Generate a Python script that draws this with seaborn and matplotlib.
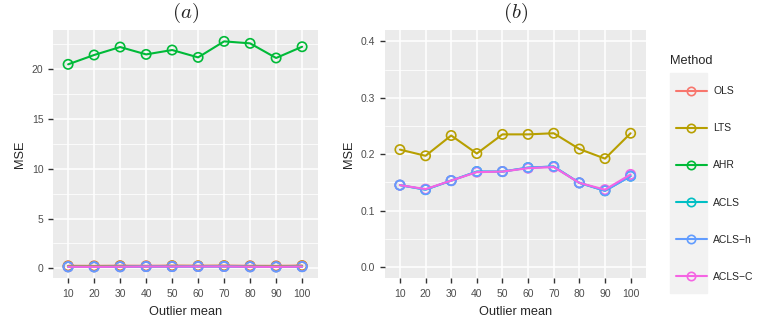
import pandas as pd
import seaborn as sns
import matplotlib.pyplot as plt
from matplotlib.lines import Line2D
from matplotlib.patches import Rectangle
from matplotlib.ticker import MultipleLocator

# categories and series
outlier_mean = ["10", "20", "30", "40", "50", "60", "70", "80", "90", "100"]
methods = ["OLS", "LTS", "AHR", "ACLS", "ACLS\u2212h", "ACLS\u2212C"]
palette = ["#F8766D", "#B79F00", "#00BA38", "#00BFC4", "#619CFF", "#F564E3"]

# panel (a)
ols_a = [0.25, 0.24, 0.26, 0.25, 0.26, 0.25, 0.26, 0.25, 0.24, 0.27]
lts_a = [0.21, 0.20, 0.23, 0.20, 0.24, 0.23, 0.24, 0.21, 0.19, 0.24]
ahr_a = [20.50, 21.44, 22.24, 21.50, 21.94, 21.20, 22.81, 22.61, 21.14, 22.27]
acls_a = [0.145, 0.137, 0.153, 0.169, 0.169, 0.176, 0.178, 0.149, 0.135, 0.161]
aclsh_a = [0.145, 0.137, 0.153, 0.169, 0.169, 0.176, 0.178, 0.149, 0.135, 0.161]
aclsc_a = [0.145, 0.138, 0.153, 0.168, 0.169, 0.175, 0.177, 0.149, 0.137, 0.164]

# panel (b)  (OLS and AHR lie above the 0.4 limit)
lts_b = [0.208, 0.197, 0.233, 0.201, 0.235, 0.235, 0.237, 0.209, 0.192, 0.237]
acls_b = [0.145, 0.137, 0.153, 0.169, 0.169, 0.176, 0.178, 0.149, 0.135, 0.161]
aclsh_b = [0.145, 0.137, 0.153, 0.169, 0.169, 0.176, 0.178, 0.149, 0.135, 0.161]
aclsc_b = [0.145, 0.138, 0.153, 0.168, 0.169, 0.175, 0.177, 0.149, 0.137, 0.164]


def long_df(series):
    rows = []
    for m, vals in series.items():
        for x, v in zip(outlier_mean, vals):
            rows.append({"Outlier mean": x, "MSE": v, "Method": m})
    return pd.DataFrame(rows)


df_a = long_df({"OLS": ols_a, "LTS": lts_a, "AHR": ahr_a, "ACLS": acls_a,
                "ACLS\u2212h": aclsh_a, "ACLS\u2212C": aclsc_a})
df_b = long_df({"LTS": lts_b, "ACLS": acls_b,
                "ACLS\u2212h": aclsh_b, "ACLS\u2212C": aclsc_b})

sns.set_theme(style="darkgrid")
plt.rcParams["font.family"] = ["Liberation Sans", "DejaVu Sans"]
plt.rcParams["mathtext.fontset"] = "cm"

fig = plt.figure(figsize=(7.61, 3.3), dpi=100)
ax_a = fig.add_axes([0.069, 0.157, 0.3485, 0.752])
ax_b = fig.add_axes([0.5053, 0.157, 0.3436, 0.752])
pal = dict(zip(methods, palette))
# points drawn so that ACLS-h circles sit on top
pt_order = ["OLS", "LTS", "AHR", "ACLS", "ACLS\u2212C", "ACLS\u2212h"]


def draw(ax, df, title, ylim, yticks, ylabels, minor):
    ax.set_facecolor("#EBEBEB")
    pts = pd.concat([df[df.Method == m] for m in pt_order])
    sns.scatterplot(data=pts, x="Outlier mean", y="MSE", hue="Method",
                    palette=pal, s=45, linewidth=1.2, legend=False, ax=ax,
                    zorder=2)
    coll = ax.collections[-1]
    coll.set_edgecolors(coll.get_facecolors())
    coll.set_facecolors("none")
    sns.lineplot(data=df, x="Outlier mean", y="MSE", hue="Method",
                 hue_order=[m for m in methods if m in set(df.Method)],
                 palette=pal, lw=1.5, sort=False, legend=False, ax=ax,
                 zorder=3)
    ax.set_xlim(-0.6, len(outlier_mean) - 0.4)
    ax.set_ylim(*ylim)
    ax.set_yticks(yticks)
    ax.set_yticklabels(ylabels)
    ax.yaxis.set_minor_locator(MultipleLocator(minor))
    ax.grid(which="major", color="white", lw=1.1)
    ax.grid(which="minor", axis="y", color="white", lw=0.55)
    ax.tick_params(which="major", length=3.6, width=1.0, color="#333333",
                   labelcolor="#4D4D4D", labelsize=7.5, pad=3,
                   bottom=True, left=True)
    ax.tick_params(axis="x", which="major", pad=4.5)
    ax.tick_params(which="minor", length=0)
    for s in ax.spines.values():
        s.set_visible(False)
    ax.set_xlabel("Outlier mean", fontsize=9.2, labelpad=5)
    ax.set_ylabel("MSE", fontsize=9.2, labelpad=4)
    ax.set_title(title, fontsize=15, pad=9)


draw(ax_a, df_a, "$(a)$", (-1.0, 23.95), [0, 5, 10, 15, 20],
     ["0", "5", "10", "15", "20"], 2.5)
draw(ax_b, df_b, "$(b)$", (-0.02, 0.42), [0.0, 0.1, 0.2, 0.3, 0.4],
     ["0.0", "0.1", "0.2", "0.3", "0.4"], 0.05)

# legend
fig.patches.append(Rectangle((670 / 761, 1 - 293 / 330), 37 / 761, 220 / 330,
                             transform=fig.transFigure, color="#F2F2F2",
                             zorder=0))
fig.text(670 / 761, 1 - 61 / 330, "Method", fontsize=9.2, va="center",
         ha="left")
handles = [Line2D([], [], color=c, lw=1.5, marker="o", mfc="none", mec=c,
                  mew=1.2, ms=6) for c in palette]
leg = fig.legend(handles, methods, loc="upper left",
                 bbox_to_anchor=(668 / 761, 1 - 78 / 330), frameon=False,
                 fontsize=7.5, handlelength=2.9, borderpad=0.3,
                 labelspacing=2.6, handletextpad=0.65)

fig.savefig("out.png", dpi=100)
